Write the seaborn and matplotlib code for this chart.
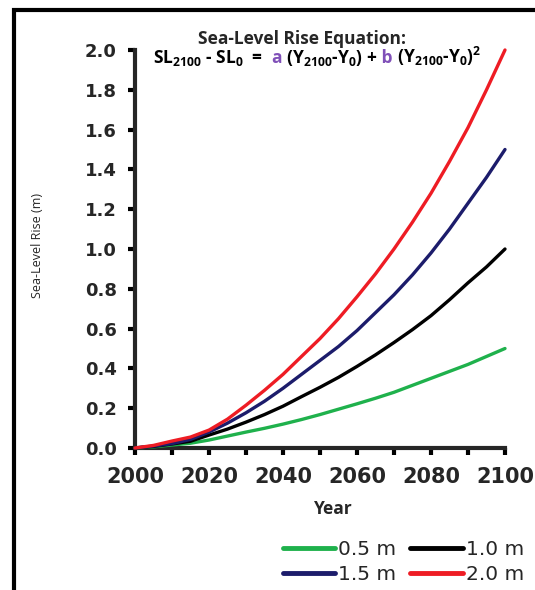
import numpy as np
import pandas as pd
import matplotlib
matplotlib.use('Agg')
import matplotlib.pyplot as plt
from matplotlib.ticker import MultipleLocator, FormatStrFormatter
from matplotlib.lines import Line2D
import seaborn as sns

# values (m of sea-level rise), every 5 years
years = [2000, 2005, 2010, 2015, 2020, 2025, 2030, 2035, 2040, 2045, 2050,
         2055, 2060, 2065, 2070, 2075, 2080, 2085, 2090, 2095, 2100]
rise_05 = [0.0, 0.006, 0.015, 0.024, 0.04, 0.06, 0.08, 0.099, 0.12, 0.143, 0.168,
           0.195, 0.222, 0.25, 0.28, 0.315, 0.35, 0.385, 0.42, 0.46, 0.50]
rise_10 = [0.0, 0.008, 0.02, 0.034, 0.065, 0.095, 0.13, 0.168, 0.21, 0.258, 0.305,
           0.355, 0.41, 0.468, 0.53, 0.595, 0.665, 0.745, 0.83, 0.91, 1.00]
rise_15 = [0.0, 0.01, 0.022, 0.043, 0.08, 0.125, 0.177, 0.235, 0.30, 0.37, 0.44,
           0.51, 0.59, 0.68, 0.77, 0.87, 0.98, 1.10, 1.23, 1.36, 1.50]
rise_20 = [0.0, 0.013, 0.035, 0.055, 0.09, 0.145, 0.215, 0.29, 0.37, 0.46, 0.55,
           0.65, 0.76, 0.875, 1.00, 1.135, 1.28, 1.44, 1.61, 1.80, 2.00]
scenarios = ['0.5 m', '1.0 m', '1.5 m', '2.0 m']
colors = ['#1fb14c', '#000000', '#1c1c6b', '#ee1c24']

df = pd.concat([
    pd.DataFrame({'year': years, 'rise': vals, 'scenario': name})
    for name, vals in zip(scenarios, [rise_05, rise_10, rise_15, rise_20])
])

sns.set_style('ticks')
plt.rcParams['font.family'] = ['DejaVu Sans']
plt.rcParams['mathtext.fontset'] = 'custom'
plt.rcParams['mathtext.rm'] = 'Open Sans'
plt.rcParams['mathtext.bf'] = 'Open Sans:bold'

fig = plt.figure(figsize=(5.35, 5.9), dpi=100)
ax = fig.add_axes([135 / 535, 1 - 448 / 590, 370 / 535, 398 / 590])

sns.lineplot(data=df, x='year', y='rise', hue='scenario', hue_order=scenarios,
             palette=colors, linewidth=2.4, legend=False, ax=ax)
for ln in ax.lines:
    ln.set_clip_on(False)
    ln.set_zorder(5)
    ln.set_solid_capstyle('round')
    ln.set_solid_joinstyle('round')

ax.set_xlim(2000, 2100)
ax.set_ylim(0, 2.0)
ax.xaxis.set_major_locator(MultipleLocator(20))
ax.xaxis.set_minor_locator(MultipleLocator(10))
ax.yaxis.set_major_locator(MultipleLocator(0.2))
ax.yaxis.set_major_formatter(FormatStrFormatter('%.1f'))
sns.despine(ax=ax)
for s in ['left', 'bottom']:
    ax.spines[s].set_linewidth(3)
ax.tick_params(axis='both', which='both', length=5, width=3, color='black', direction='out')
ax.tick_params(axis='y', labelsize=13, pad=8)
ax.tick_params(axis='x', labelsize=15, pad=9)
for lab in ax.get_xticklabels() + ax.get_yticklabels():
    lab.set_fontweight('bold')

ax.set_xlabel('Year', fontsize=12.5, fontweight='bold', family='Open Sans')
ax.xaxis.set_label_coords(0.535, -0.13)
ax.set_ylabel('Sea-Level Rise (m)', fontsize=9, family='Open Sans')
ax.yaxis.set_label_coords(-0.245, 0.51)

# equation header
fig.text(302 / 535, 1 - 44 / 590, 'Sea-Level Rise Equation:', ha='center', va='baseline',
         fontsize=12.5, fontweight='bold', family='Open Sans')
purple = '#8050b8'
parts = [
    (r'$\mathbf{SL}_{\mathbf{2100}}$ - $\mathbf{SL}_{\mathbf{0}}$  =', 'black'),
    ('  a', purple),
    (r' ($\mathbf{Y}_{\mathbf{2100}}$-$\mathbf{Y}_{\mathbf{0}}$) +', 'black'),
    (' b', purple),
    (r' ($\mathbf{Y}_{\mathbf{2100}}$-$\mathbf{Y}_{\mathbf{0}}$)$^{\mathbf{2}}$', 'black'),
]
fig.canvas.draw()
renderer = fig.canvas.get_renderer()
x0 = 153 / 535
for txt, c in parts:
    t = fig.text(x0, 1 - 63 / 590, txt, ha='left', va='baseline', fontsize=12.5,
                 fontweight='bold', family='Open Sans', color=c)
    bb = t.get_window_extent(renderer).transformed(fig.transFigure.inverted())
    x0 = bb.x1

# legend, column-wise order
order = [0, 2, 1, 3]
handles = [Line2D([], [], color=colors[i], lw=3.5) for i in order]
labels = [scenarios[i] for i in order]
fig.legend(handles, labels, ncol=2, loc='upper right', bbox_to_anchor=(1.0, 1 - 529 / 590),
           frameon=False, fontsize=14.5, handlelength=2.6, handletextpad=0.15,
           columnspacing=0.7, labelspacing=0.3, borderaxespad=0.15)

# black frame around the figure
fig.add_artist(plt.Rectangle((14 / 535, -0.1), 1.2, 1 - 10 / 590 + 0.1, fill=False,
                             lw=3, ec='black', transform=fig.transFigure))

fig.savefig('out.png', dpi=100)
